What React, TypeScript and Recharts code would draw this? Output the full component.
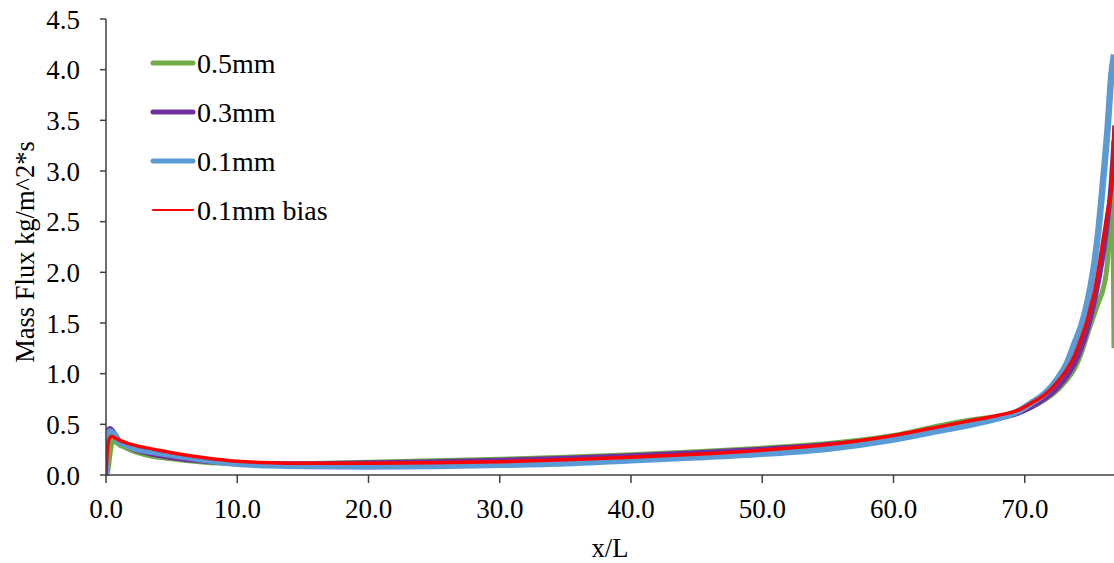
import React from 'react';
import { LineChart, Line, XAxis, YAxis, Legend } from 'recharts';

// x/L positions and mass flux values for each series
const xGreen = [0, 0.15, 0.3, 0.5, 0.8, 1, 1.5, 2, 3, 5, 7.5, 10, 12.5, 15, 20, 25, 30, 35, 40, 45, 50, 55, 60, 64, 66, 68, 69.5, 70.5, 71.5, 72.5, 73.2, 73.8, 74.3, 74.8, 75.2, 75.6, 76.0, 76.3, 76.6, 76.7, 76.8];
const yGreen = [0, 0.05, 0.2, 0.33, 0.32, 0.3, 0.27, 0.24, 0.2, 0.16, 0.125, 0.11, 0.105, 0.11, 0.125, 0.14, 0.155, 0.175, 0.2, 0.23, 0.265, 0.31, 0.39, 0.5, 0.545, 0.58, 0.62, 0.67, 0.74, 0.84, 0.94, 1.05, 1.2, 1.4, 1.55, 1.7, 1.85, 2.1, 2.8, 2.9, 1.25];

const xPurple = [0, 0.05, 0.15, 0.3, 0.6, 1, 1.5, 2, 3, 5, 7.5, 10, 12.5, 15, 20, 25, 30, 35, 40, 45, 50, 55, 60, 64, 66, 68, 69.5, 70.5, 71.5, 72.5, 73.2, 73.8, 74.3, 74.8, 75.2, 75.6, 76.0, 76.3, 76.6, 76.8];
const yPurple = [0, 0.3, 0.44, 0.46, 0.42, 0.34, 0.3, 0.26, 0.22, 0.17, 0.135, 0.115, 0.11, 0.11, 0.12, 0.13, 0.145, 0.165, 0.19, 0.22, 0.255, 0.3, 0.37, 0.47, 0.52, 0.56, 0.61, 0.67, 0.75, 0.86, 0.97, 1.1, 1.25, 1.45, 1.65, 1.9, 2.2, 2.5, 2.9, 3.3];

const xBlue = [0, 0.05, 0.15, 0.3, 0.6, 1, 1.5, 2, 3, 5, 7.5, 10, 12.5, 15, 20, 25, 30, 35, 40, 45, 50, 55, 60, 64, 66, 68, 69.5, 70.5, 71.5, 72.5, 73.2, 73.8, 74.3, 74.8, 75.2, 75.6, 76.0, 76.3, 76.6, 76.8];
const yBlue = [0, 0.28, 0.41, 0.43, 0.4, 0.33, 0.3, 0.27, 0.24, 0.2, 0.15, 0.11, 0.095, 0.088, 0.085, 0.09, 0.1, 0.115, 0.145, 0.175, 0.21, 0.26, 0.35, 0.45, 0.5, 0.56, 0.63, 0.71, 0.8, 0.95, 1.1, 1.3, 1.47, 1.72, 2.0, 2.4, 2.95, 3.4, 3.95, 4.15];

const xRed = [0, 0.08, 0.2, 0.43, 0.7, 1, 1.5, 2, 3, 4, 5, 7.5, 10, 12.5, 15, 20, 25, 30, 35, 40, 45, 50, 55, 60, 64, 66, 68, 69.5, 70.5, 71.5, 72.5, 73.2, 73.8, 74.3, 74.7, 75.0, 75.3, 75.7, 76.0, 76.3, 76.6, 76.8];
const yRed = [0, 0.2, 0.34, 0.38, 0.365, 0.345, 0.32, 0.3, 0.27, 0.245, 0.22, 0.17, 0.135, 0.12, 0.115, 0.115, 0.12, 0.13, 0.15, 0.175, 0.205, 0.245, 0.3, 0.39, 0.49, 0.54, 0.59, 0.64, 0.71, 0.79, 0.92, 1.04, 1.18, 1.35, 1.5, 1.65, 1.8, 2.1, 2.35, 2.6, 2.85, 3.45];

const xTicks = [0, 10, 20, 30, 40, 50, 60, 70];
const yTicks = [0, 0.5, 1, 1.5, 2, 2.5, 3, 3.5, 4, 4.5];

const seriesNames = ['0.5mm', '0.3mm', '0.1mm', '0.1mm bias'];
const seriesColors = ['#70AD47', '#7030A0', '#5B9BD5', '#FF0000'];
const seriesWidths = [5, 5, 6.5, 3.5];
const legendWidths = [5, 5, 5, 2];

const toRows = (xs: number[], ys: number[]) => xs.map((x, i) => ({ x, y: ys[i] }));
const seriesData = [
  toRows(xGreen, yGreen),
  toRows(xPurple, yPurple),
  toRows(xBlue, yBlue),
  toRows(xRed, yRed),
];

const FONT = '"Liberation Serif", "Times New Roman", serif';
const FS = 27;

const renderLegend = () => (
  <div style={{ fontFamily: FONT, fontSize: 28, color: '#000' }}>
    {seriesNames.map((n, i) => (
      <div key={n} style={{ display: 'flex', alignItems: 'center', height: 49, whiteSpace: 'nowrap' }}>
        <svg width={46} height={10} style={{ display: 'block' }}>
          <line x1={3} x2={43} y1={5} y2={5} stroke={seriesColors[i]} strokeWidth={legendWidths[i]} strokeLinecap="round" />
        </svg>
        <span style={{ lineHeight: 1, marginLeft: 1, position: 'relative', top: 1 }}>{n}</span>
      </div>
    ))}
  </div>
);

const YTitle = (props: any) => {
  const vb = props.viewBox || {};
  const cx = 25;
  const cy = vb.y + vb.height / 2 + 5;
  return (
    <text x={cx} y={cy} transform={`rotate(-90, ${cx}, ${cy})`} textAnchor="middle" dominantBaseline="central" fontFamily={FONT} fontSize={26.5} fill="#000">
      Mass Flux kg/m^2*s
    </text>
  );
};

const XTitle = (props: any) => {
  const vb = props.viewBox || {};
  return (
    <text x={vb.x + vb.width / 2} y={557} textAnchor="middle" fontFamily={FONT} fontSize={26.5} fill="#000">
      x/L
    </text>
  );
};

export default function App() {
  return (
    <div style={{ width: 1114, height: 563, overflow: 'hidden', position: 'relative', background: '#fff' }}>
      <style>{`body{margin:0;}`}</style>
      <LineChart width={1114} height={563} margin={{ top: 19, right: 0, bottom: 0, left: 0 }}>
        <XAxis
          type="number"
          dataKey="x"
          domain={[0, 76.8]}
          ticks={xTicks}
          allowDataOverflow
          tickFormatter={(v: number) => v.toFixed(1)}
          height={88}
          tickSize={8}
          tickMargin={16}
          stroke="#404040"
          strokeWidth={1.5}
          tick={{ fill: '#000', fontFamily: FONT, fontSize: FS }}
          label={<XTitle />}
        />
        <YAxis
          type="number"
          domain={[0, 4.5]}
          ticks={yTicks}
          tickFormatter={(v: number) => v.toFixed(1)}
          width={106}
          tickSize={6}
          tickMargin={20}
          stroke="#404040"
          strokeWidth={1.5}
          tick={{ fill: '#000', fontFamily: FONT, fontSize: FS }}
          label={<YTitle />}
        />
        <Legend
          layout="horizontal"
          verticalAlign="middle"
          align="center"
          content={renderLegend}
          wrapperStyle={{ left: 150, top: 38, width: 'auto', height: 'auto' }}
        />
        {seriesData.map((d, i) => (
          <Line
            key={seriesNames[i]}
            data={d}
            dataKey="y"
            name={seriesNames[i]}
            type="monotone"
            stroke={seriesColors[i]}
            strokeWidth={seriesWidths[i]}
            dot={false}
            activeDot={false}
            isAnimationActive={false}
          />
        ))}
      </LineChart>
    </div>
  );
}
